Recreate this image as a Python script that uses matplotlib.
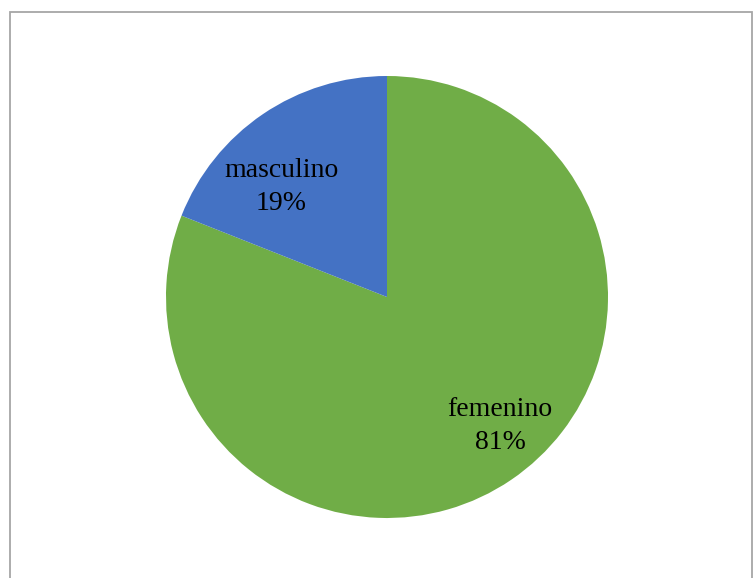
import matplotlib
matplotlib.use("Agg")
import matplotlib.pyplot as plt
from matplotlib.patches import Rectangle

labels = ["femenino", "masculino"]
values = [81, 19]
colors = ["#70AD47", "#4472C4"]

W, H = 753, 578
fig = plt.figure(figsize=(W / 100, H / 100), dpi=100)
ax = fig.add_axes([0, 0, 1, 1])

# chart area border
ax.add_patch(Rectangle((10, -10), 742, H - 12 + 10, fill=False,
                       edgecolor="#a6a6a6", linewidth=1.3))

cx, cy, r = 387, H - 297, 221
wedges, _ = ax.pie(values, colors=colors, startangle=90, counterclock=False,
                   center=(cx, cy), radius=r, frame=True,
                   wedgeprops=dict(linewidth=0))
ax.set_xlim(0, W)
ax.set_ylim(0, H)
ax.set_aspect("equal")
ax.axis("off")

label_pos = [(500, H - 426), (281, H - 187)]
for (x, y), lab, v in zip(label_pos, labels, values):
    ax.text(x, y, f"{lab}\n{v}%", ha="center", va="center",
            fontsize=20, family="Liberation Serif", linespacing=1.38)

fig.savefig("out.png", dpi=100)
